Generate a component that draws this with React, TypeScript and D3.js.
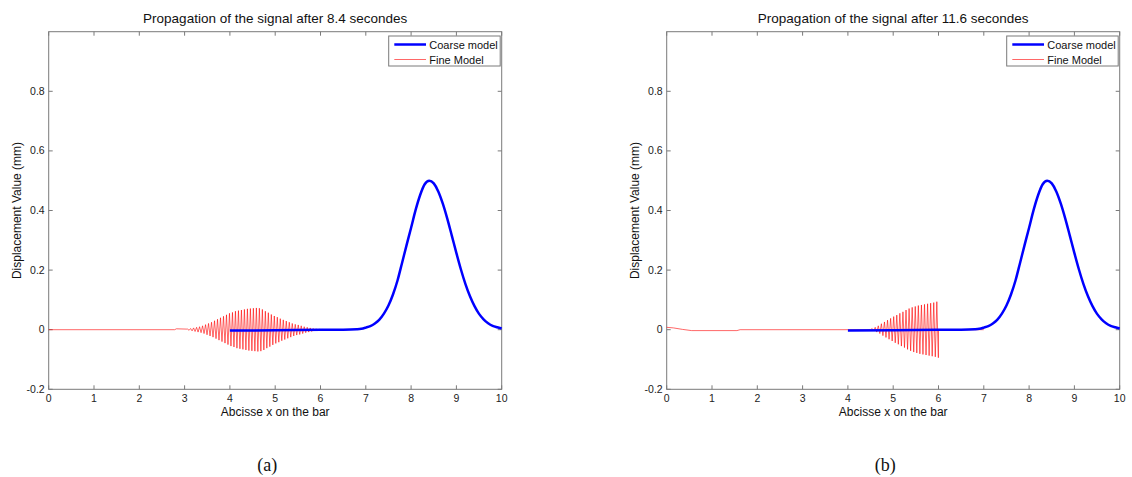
import React from "react";
import * as d3 from "d3";

// ---------- data ----------
const xTicks = [0, 1, 2, 3, 4, 5, 6, 7, 8, 9, 10];
const yTicks = [-0.2, 0, 0.2, 0.4, 0.6, 0.8];
const yTickLabels = ["-0.2", "0", "0.2", "0.4", "0.6", "0.8"];

const titles = [
  "Propagation of the signal after 8.4 secondes",
  "Propagation of the signal after 11.6 secondes",
];
const captions = ["(a)", "(b)"];
const legendLabels = ["Coarse model", "Fine Model"];
const xLabel = "Abcisse x on the bar";
const yLabel = "Displacement Value (mm)";

// coarse model (same pulse in both panels)
const coarseX = [4.0, 5.0, 6.0, 6.5, 6.8, 6.9, 7.0, 7.1, 7.2, 7.3, 7.4, 7.5, 7.6, 7.7, 7.8, 7.9, 8.0, 8.1, 8.2, 8.3, 8.4, 8.5, 8.6, 8.7, 8.8, 8.9, 9.0, 9.1, 9.2, 9.3, 9.4, 9.5, 9.6, 9.7, 9.8, 9.9, 10.0];
const coarseY = [-0.003, -0.002, -0.0005, 0, 0.0015, 0.003, 0.007, 0.012, 0.021, 0.034, 0.054, 0.081, 0.118, 0.165, 0.224, 0.284, 0.342, 0.402, 0.452, 0.488, 0.5, 0.491, 0.464, 0.423, 0.372, 0.315, 0.257, 0.202, 0.153, 0.112, 0.079, 0.053, 0.035, 0.022, 0.013, 0.008, 0.004];

// fine model, panel (a)
const fineABefore: [number, number][] = [[0, 0], [2.78, 0], [2.82, 0.003], [3.05, 0.002]];
const fineAOscStart = 3.05;
const fineAPeriod = 0.066;
const fineAAmps = [0.002, 0.004, 0.006, 0.008, 0.01, 0.013, 0.017, 0.021, 0.025, 0.03, 0.035, 0.04, 0.045, 0.05, 0.055, 0.058, 0.062, 0.064, 0.066, 0.068, 0.07, 0.071, 0.072, 0.073, 0.072, 0.068, 0.062, 0.057, 0.051, 0.046, 0.042, 0.037, 0.033, 0.029, 0.025, 0.021, 0.018, 0.016, 0.013, 0.01, 0.008, 0.006, 0.004, 0.003, 0.002, 0.001];
const fineAAfter: [number, number][] = [[6.1, 0], [6.6, 0]];

// fine model, panel (b)
const fineBBefore: [number, number][] = [[0, 0.008], [0.15, 0.006], [0.35, 0.001], [0.55, -0.003], [1.0, -0.003], [1.55, -0.003], [1.62, 0], [4.45, 0]];
const fineBOscStart = 4.45;
const fineBPeriod = 0.068;
const fineBAmps = [0.001, 0.004, 0.008, 0.013, 0.02, 0.026, 0.032, 0.038, 0.044, 0.049, 0.055, 0.06, 0.066, 0.071, 0.075, 0.078, 0.081, 0.083, 0.085, 0.087, 0.089, 0.091, 0.094];
const fineBAfter: [number, number][] = [[6.0, 0], [7.0, 0]];

// ---------- layout ----------
const W = 1132;
const H = 477;
const panelLefts = [48.7, 666.7];
const plotW = 453;
const plotTop = 31.7;
const plotBottom = 389.3;

function buildFine(before: [number, number][], start: number, period: number, amps: number[], after: [number, number][]) {
  const pts: [number, number][] = [...before];
  amps.forEach((a, i) => {
    pts.push([start + i * period + period / 4, a]);
    pts.push([start + i * period + (3 * period) / 4, -a]);
  });
  return pts.concat(after);
}

const fineSets = [
  buildFine(fineABefore, fineAOscStart, fineAPeriod, fineAAmps, fineAAfter),
  buildFine(fineBBefore, fineBOscStart, fineBPeriod, fineBAmps, fineBAfter),
];
const coarse: [number, number][] = coarseX.map((x, i) => [x, coarseY[i]]);

const axisColor = "#7a7a7a";
const font = "Arial, 'Liberation Sans', Helvetica, sans-serif";

function Panel({ idx }: { idx: number }) {
  const left = panelLefts[idx];
  const right = left + plotW;
  const x = d3.scaleLinear().domain([0, 10]).range([left, right]);
  const y = d3.scaleLinear().domain([-0.2, 1]).range([plotBottom, plotTop]);
  const line = d3.line<[number, number]>().x((d) => x(d[0])).y((d) => y(d[1]));
  const smooth = d3.line<[number, number]>().x((d) => x(d[0])).y((d) => y(d[1])).curve(d3.curveMonotoneX);
  const cx = (left + right) / 2;
  const cy = (plotTop + plotBottom) / 2;
  const tl = 4;
  const lgLeft = right - 113;
  const lgRight = right - 1.5;
  return (
    <g>
      <text x={cx} y={23} textAnchor="middle" fontSize={13.5} fontFamily={font} fill="#111">
        {titles[idx]}
      </text>
      {/* box */}
      <rect x={left} y={plotTop} width={plotW} height={plotBottom - plotTop} fill="white" stroke={axisColor} strokeWidth={1} />
      {/* ticks */}
      {xTicks.map((t) => (
        <g key={"x" + t}>
          <line x1={x(t)} x2={x(t)} y1={plotBottom} y2={plotBottom - tl} stroke={axisColor} />
          <line x1={x(t)} x2={x(t)} y1={plotTop} y2={plotTop + tl} stroke={axisColor} />
          <text x={x(t)} y={402} textAnchor="middle" fontSize={10.5} fontFamily={font} fill="#222">
            {String(t)}
          </text>
        </g>
      ))}
      {yTicks.map((t, i) => (
        <g key={"y" + t}>
          <line x1={left} x2={left + tl} y1={y(t)} y2={y(t)} stroke={axisColor} />
          <line x1={right} x2={right - tl} y1={y(t)} y2={y(t)} stroke={axisColor} />
          <text x={left - 4} y={y(t) + 3.5} textAnchor="end" fontSize={10.5} fontFamily={font} fill="#222">
            {yTickLabels[i]}
          </text>
        </g>
      ))}
      <text x={cx} y={416} textAnchor="middle" fontSize={12} fontFamily={font} fill="#111">
        {xLabel}
      </text>
      <text
        transform={`translate(${left - 28},${cy}) rotate(-90)`}
        textAnchor="middle"
        fontSize={12}
        fontFamily={font}
        fill="#111"
      >
        {yLabel}
      </text>
      {/* data */}
      <path d={line(fineSets[idx]) || ""} fill="none" stroke="#ff0000" strokeWidth={0.6} />
      <path d={smooth(coarse) || ""} fill="none" stroke="#0000ff" strokeWidth={2.5} strokeLinejoin="round" />
      {/* legend */}
      <rect x={lgLeft} y={36} width={lgRight - lgLeft} height={30} fill="white" stroke={axisColor} strokeWidth={1} />
      <line x1={right - 107.4} x2={right - 75.7} y1={44.5} y2={44.5} stroke="#0000ff" strokeWidth={2.5} />
      <line x1={right - 107.4} x2={right - 75.7} y1={59.5} y2={59.5} stroke="#ff0000" strokeWidth={0.6} />
      <text x={right - 72.4} y={48.5} fontSize={11} fontFamily={font} fill="#111">
        {legendLabels[0]}
      </text>
      <text x={right - 72.4} y={63.5} fontSize={11} fontFamily={font} fill="#111">
        {legendLabels[1]}
      </text>
      {/* caption */}
      <text x={cx - 8} y={471} textAnchor="middle" fontSize={18} fontFamily="'Liberation Serif', 'DejaVu Serif', serif" fill="#111">
        {captions[idx]}
      </text>
    </g>
  );
}

export default function App() {
  return (
    <svg
      width={W}
      height={H}
      viewBox={`0 0 ${W} ${H}`}
      style={{ position: "absolute", left: 0, top: 0, display: "block", background: "white" }}
    >
      <rect x={0} y={0} width={W} height={H} fill="white" />
      <Panel idx={0} />
      <Panel idx={1} />
    </svg>
  );
}
